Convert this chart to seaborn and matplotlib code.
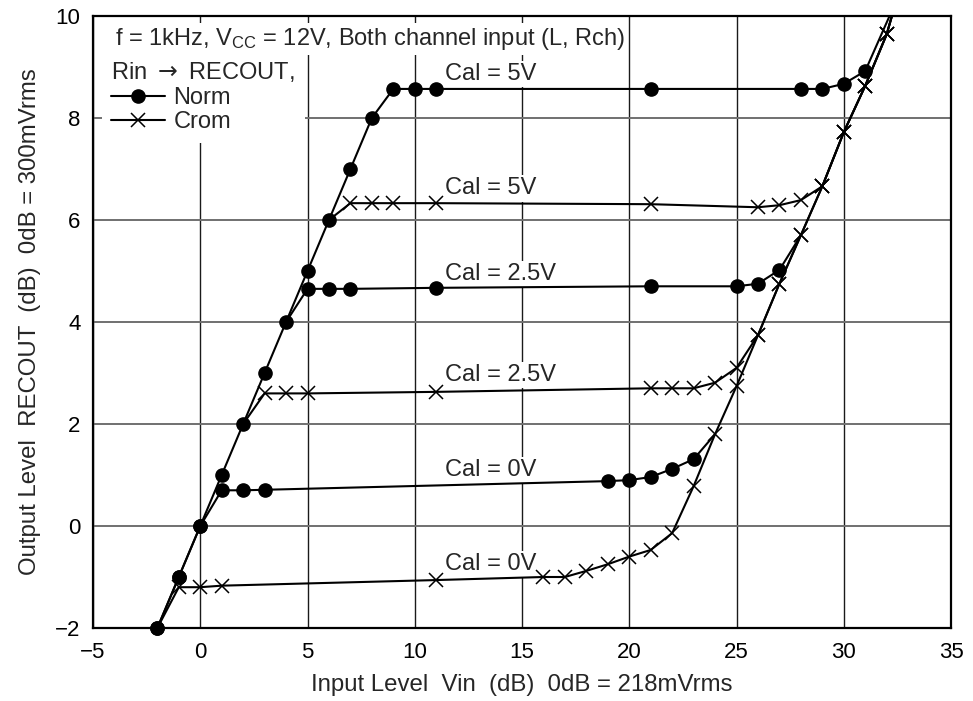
import matplotlib
matplotlib.use("Agg")
import matplotlib.pyplot as plt
import pandas as pd
import seaborn as sns

# Output level RECOUT (dB) versus input level Vin (dB), f = 1 kHz
# Norm curves (dots): Cal = 0 V, 2.5 V, 5 V
norm_0_x = [-2, -1, 0, 1, 2, 3, 19, 20, 21, 22, 23, 24]
norm_0_y = [-2, -1, 0, 0.7, 0.7, 0.71, 0.88, 0.9, 0.96, 1.12, 1.31, 1.8]

norm_25_x = [4, 5, 6, 7, 11, 21, 25, 26, 27, 28]
norm_25_y = [4, 4.65, 4.65, 4.65, 4.67, 4.7, 4.7, 4.75, 5.02, 5.7]

norm_5_x = [-2, -1, 0, 1, 2, 3, 4, 5, 6, 7, 8, 9, 10, 11, 21, 28, 29, 30, 31, 32.45]
norm_5_y = [-2, -1, 0, 1, 2, 3, 4, 5, 6, 7, 8, 8.57, 8.57, 8.57, 8.57, 8.57, 8.57, 8.67, 8.92, 10.3]

# Crom curves (crosses): Cal = 0 V, 2.5 V, 5 V
crom_0_x = [-2, -1, 0, 1, 11, 16, 17, 18, 19, 20, 21, 22, 23, 24, 25, 26, 27, 28, 29, 30, 31, 32, 32.45]
crom_0_y = [-2, -1.2, -1.2, -1.17, -1.06, -1.0, -1.0, -0.88, -0.75, -0.6, -0.47, -0.14,
            0.78, 1.8, 2.74, 3.74, 4.75, 5.7, 6.66, 7.72, 8.63, 9.64, 10.3]

crom_25_x = [2, 3, 4, 5, 11, 21, 22, 23, 24, 25, 26, 27, 28, 29, 30, 31, 32, 32.45]
crom_25_y = [2, 2.6, 2.6, 2.6, 2.63, 2.7, 2.7, 2.7, 2.81, 3.1, 3.74, 4.75, 5.7, 6.66, 7.72, 8.63, 9.64, 10.3]

crom_5_x = [6, 7, 8, 9, 11, 21, 26, 27, 28, 29, 30, 31, 32, 32.45]
crom_5_y = [6, 6.33, 6.33, 6.33, 6.33, 6.31, 6.25, 6.29, 6.39, 6.66, 7.72, 8.63, 9.64, 10.3]

cal_labels = ["Cal = 5V", "Cal = 5V", "Cal = 2.5V", "Cal = 2.5V", "Cal = 0V", "Cal = 0V"]
cal_label_y = [8.75, 6.5, 4.82, 2.84, 0.98, -0.86]
cal_label_x = 11.43

x_ticks = [-5, 0, 5, 10, 15, 20, 25, 30, 35]
y_ticks = [-2, 0, 2, 4, 6, 8, 10]

sns.set_style("white")
plt.rcParams["font.family"] = ["Liberation Sans", "DejaVu Sans"]
plt.rcParams["mathtext.fontset"] = "custom"
plt.rcParams["mathtext.rm"] = "Liberation Sans"
plt.rcParams["mathtext.it"] = "Liberation Sans:italic"

fig = plt.figure(figsize=(9.73, 7.01), dpi=100)
ax = fig.add_axes([93 / 973, 1 - 628 / 701, 858 / 973, 612 / 701])

LW = 1.5
curves = [
    ("Norm", norm_0_x, norm_0_y, 0, -1),
    ("Norm", norm_25_x, norm_25_y, 1, -1),
    ("Norm", norm_5_x, norm_5_y, 0, -1),
    ("Crom", crom_0_x, crom_0_y, 1, -1),
    ("Crom", crom_25_x, crom_25_y, 1, -1),
    ("Crom", crom_5_x, crom_5_y, 1, -1),
]

for kind, xs, ys, m0, m1 in curves:
    df = pd.DataFrame({"vin": xs, "out": ys})
    sns.lineplot(data=df, x="vin", y="out", sort=False, estimator=None,
                 color="black", linewidth=LW, ax=ax, zorder=3)
    pts = df.iloc[m0:m1]
    if kind == "Norm":
        ax.plot(pts["vin"], pts["out"], linestyle="none", marker="o",
                markersize=9.5, color="black", clip_on=False, zorder=4)
    else:
        ax.plot(pts["vin"], pts["out"], linestyle="none", marker="x",
                markersize=9.5, markeredgewidth=1.1, color="black",
                clip_on=False, zorder=4)

ax.set_xlim(-5, 35)
ax.set_ylim(-2, 10)
ax.set_xticks(x_ticks)
ax.set_yticks(y_ticks)
ax.tick_params(axis="both", length=0, labelsize=16, colors="black")
ax.tick_params(axis="y", pad=9)
ax.tick_params(axis="x", pad=10)

ax.set_axisbelow(True)
ax.xaxis.grid(True, color="#1a1a1a", linewidth=1.0)
ax.yaxis.grid(True, color="#707070", linewidth=1.4)
for sp in ax.spines.values():
    sp.set_visible(True)
    sp.set_color("black")
    sp.set_linewidth(1.6)

ax.set_xlabel("Input Level  Vin  (dB)  0dB = 218mVrms", fontsize=17.3, labelpad=8)
ax.set_ylabel("Output Level  RECOUT  (dB)  0dB = 300mVrms", fontsize=17.3, labelpad=10)

for txt, yv in zip(cal_labels, cal_label_y):
    ax.text(cal_label_x, yv, txt, fontsize=17, ha="left", va="baseline", zorder=2.5,
            bbox=dict(facecolor="white", edgecolor="none", pad=1.5))

ax.text(22 / 858, (628 - 45) / 612,
        r"f = 1kHz, V$_{\mathrm{CC}}$ = 12V, Both channel input (L, Rch)",
        transform=ax.transAxes, fontsize=17, ha="left", va="baseline", zorder=5,
        bbox=dict(facecolor="white", edgecolor="none", pad=2))

h_norm, = ax.plot([], [], color="black", linewidth=LW, marker="o", markersize=9.5)
h_crom, = ax.plot([], [], color="black", linewidth=LW, marker="x", markersize=9.5,
                  markeredgewidth=1.1)
leg = ax.legend([h_norm, h_crom], ["Norm", "Crom"], title=r"Rin $\rightarrow$ RECOUT,",
                loc="upper left", bbox_to_anchor=(9 / 858, (628 - 51) / 612),
                borderaxespad=0, borderpad=0.4, frameon=True, fancybox=False,
                facecolor="white", edgecolor="none", framealpha=1,
                fontsize=17, title_fontsize=17, handlelength=2.25,
                handletextpad=0.38, labelspacing=0.1, alignment="left")
leg.get_title().set_math_fontfamily("dejavusans")
leg.set_zorder(5)

fig.savefig("out.png", dpi=100)
